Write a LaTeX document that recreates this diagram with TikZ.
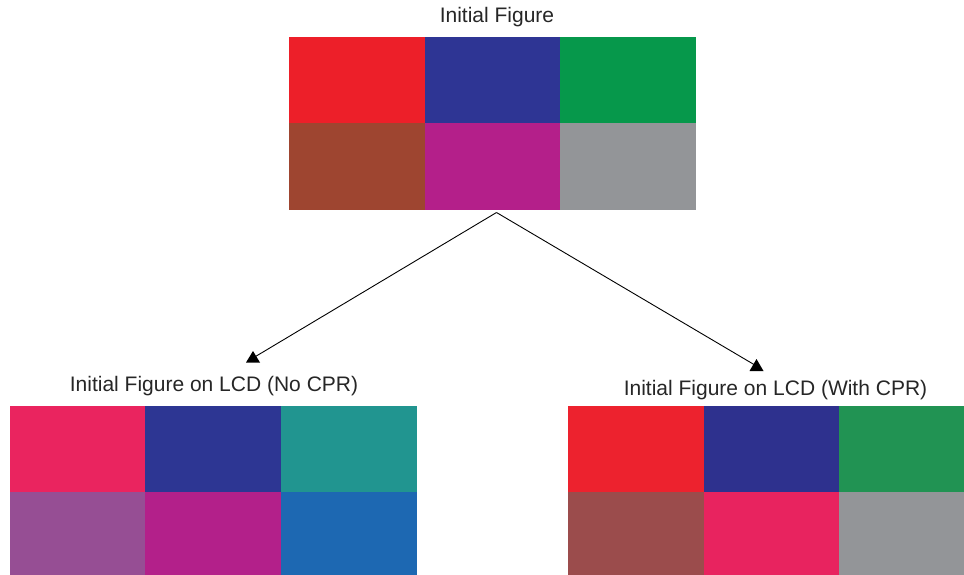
\documentclass[tikz,border=0pt]{standalone}
\usepackage{fontspec}
\setmainfont{Liberation Sans}
\definecolor{cRed}{HTML}{ED1F29}
\definecolor{cBlue}{HTML}{2E3594}
\definecolor{cGreen}{HTML}{06984B}
\definecolor{cBrown}{HTML}{9E4530}
\definecolor{cMag}{HTML}{B41F8A}
\definecolor{cGray}{HTML}{939598}
\definecolor{lPink}{HTML}{EA245F}
\definecolor{lBlue}{HTML}{2D3693}
\definecolor{lTeal}{HTML}{219590}
\definecolor{lPurple}{HTML}{964E94}
\definecolor{lMag}{HTML}{B3208A}
\definecolor{lSky}{HTML}{1D68B2}
\definecolor{rRed}{HTML}{ED222E}
\definecolor{rBlue}{HTML}{2E318E}
\definecolor{rGreen}{HTML}{219353}
\definecolor{rBrown}{HTML}{9B4C4C}
\definecolor{rPink}{HTML}{E8235F}
\definecolor{rGray}{HTML}{939598}
\tikzset{
  cell/.style={rectangle, inner sep=0pt, outer sep=0pt, anchor=north west},
  ttl/.style={anchor=base, inner sep=0pt, text=black!85, font=\fontsize{21}{25}\selectfont},
  conn/.style={draw=black, line width=0.9pt},
  tip/.style={fill=black}
}
\newcommand{\gridcell}[7]{% name, x1, y1, x2, y2, color
  \path[fill=#6] (#2,#3) rectangle (#4,#5);
  \node[cell, minimum width={(#4-#2)*1pt}, minimum height={(#5-#3)*1pt}] (#1) at (#2,#3) {};#7}
\begin{document}
\begin{tikzpicture}[x=1pt,y=-1pt]
\useasboundingbox (0,0) rectangle (964,575);
% top grid
\gridcell{t11}{289}{37}{425}{123}{cRed}{}
\gridcell{t12}{425}{37}{560}{123}{cBlue}{}
\gridcell{t13}{560}{37}{696}{123}{cGreen}{}
\gridcell{t21}{289}{123}{425}{210}{cBrown}{}
\gridcell{t22}{425}{123}{560}{210}{cMag}{}
\gridcell{t23}{560}{123}{696}{210}{cGray}{}
\node[ttl] (ttop) at (497,23) {Initial Figure};
% bottom-left grid
\gridcell{l11}{10}{406}{145}{492}{lPink}{}
\gridcell{l12}{145}{406}{281}{492}{lBlue}{}
\gridcell{l13}{281}{406}{417}{492}{lTeal}{}
\gridcell{l21}{10}{492}{145}{575}{lPurple}{}
\gridcell{l22}{145}{492}{281}{575}{lMag}{}
\gridcell{l23}{281}{492}{417}{575}{lSky}{}
\node[ttl] (tleft) at (214,391) {Initial Figure on LCD (No CPR)};
% bottom-right grid
\gridcell{r11}{568}{406}{704}{492}{rRed}{}
\gridcell{r12}{704}{406}{839}{492}{rBlue}{}
\gridcell{r13}{839}{406}{964}{492}{rGreen}{}
\gridcell{r21}{568}{492}{704}{575}{rBrown}{}
\gridcell{r22}{704}{492}{839}{575}{rPink}{}
\gridcell{r23}{839}{492}{964}{575}{rGray}{}
\node[ttl] (tright) at (775.5,395) {Initial Figure on LCD (With CPR)};
% connectors
\coordinate (src) at (496.5,212.5);
\coordinate (endL) at (253,358);
\coordinate (endR) at (756.5,366);
\draw[conn] (src) -- (endL);
\draw[conn] (src) -- (endR);
\fill[tip] (endL) ++(0,-7) -- ++(7,11.5) -- ++(-14,0) -- cycle;
\fill[tip] (endR) ++(0,-7) -- ++(7,12) -- ++(-14,0) -- cycle;
\end{tikzpicture}
\end{document}
